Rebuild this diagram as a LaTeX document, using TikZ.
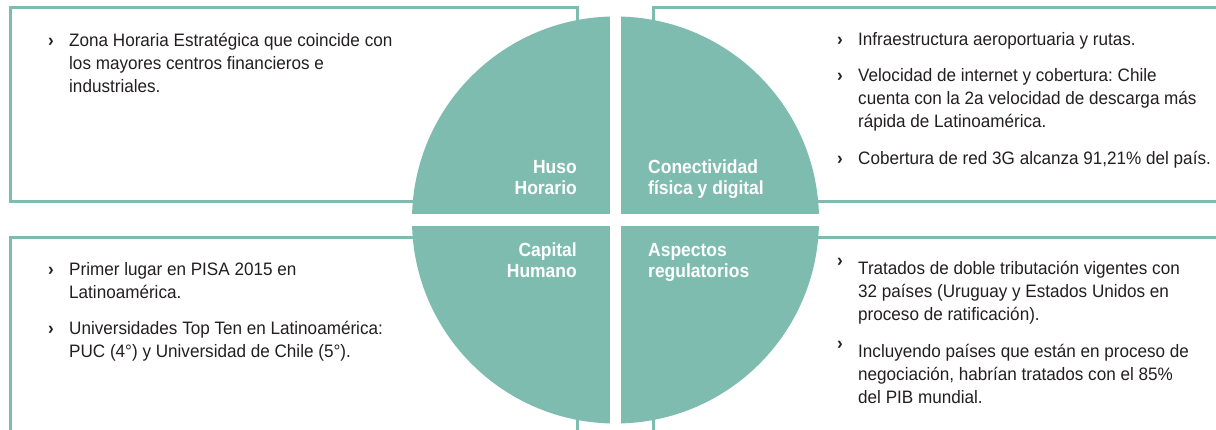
\documentclass[tikz,border=0pt]{standalone}
\usepackage{fontspec}
\setmainfont{Liberation Sans}
\newfontfamily\bodyfont{Liberation Sans}[FakeStretch=0.95]
\newfontfamily\lblfont{Liberation Sans}[FakeStretch=0.92]
\definecolor{teal1}{HTML}{7FBCB0}
\definecolor{ink}{HTML}{231F20}
\frenchspacing
\begin{document}
\begin{tikzpicture}[x=1pt,y=-1pt,
  boxline/.style={draw=teal1, line width=3pt},
  item/.style={anchor=base west, align=left, inner sep=0pt,
    font=\bodyfont\fontsize{18}{23}\selectfont, text=ink},
  bul/.style={anchor=base west, inner sep=0pt,
    font=\bodyfont\bfseries\fontsize{18}{23}\selectfont, text=ink},
  lbl/.style={inner sep=0pt,
    font=\lblfont\bfseries\fontsize{19}{20.5}\selectfont, text=white},
]
\clip (0,0) rectangle (1216,430);
\fill[white] (0,0) rectangle (1216,430);
% frames
\draw[boxline] (10,8) rectangle (577,202);
\draw[boxline] (653,8) rectangle (1240,202);
\draw[boxline] (10,238) rectangle (577,460);
\draw[boxline] (653,238) rectangle (1240,460);
% quadrant disc
\coordinate (c) at (615.5,220);
\begin{scope}
  \clip (c) circle[radius=203.5pt];
  \fill[teal1] (400,5) rectangle (610,214);
  \fill[teal1] (621,5) rectangle (830,214);
  \fill[teal1] (400,226) rectangle (610,435);
  \fill[teal1] (621,226) rectangle (830,435);
\end{scope}
% labels (anchored at the baseline of their last line)
\node[lbl, anchor=base east, align=right] (huso) at (577,194.5) {Huso\\Horario};
\node[lbl, anchor=base west, align=left] (conec) at (648,194.5) {Conectividad\\física y digital};
\node[lbl, anchor=base east, align=right] (capital) at (577,277.5) {Capital\\Humano};
\node[lbl, anchor=base west, align=left] (aspectos) at (648,277.5) {Aspectos\\regulatorios};
% top left
\node[bul] (tlb1) at (48,46.5) {›};
\node[item] (tl1) at (69,92.5) {Zona Horaria Estratégica que coincide con\\los mayores centros financieros e\\industriales.};
% top right
\node[bul] (trb1) at (837,46) {›};
\node[item] (tr1) at (858,46) {Infraestructura aeroportuaria y rutas.};
\node[bul] (trb2) at (837,82) {›};
\node[item] (tr2) at (858,128) {Velocidad de internet y cobertura: Chile\\cuenta con la 2a velocidad de descarga más\\rápida de Latinoamérica.};
\node[bul] (trb3) at (837,164.5) {›};
\node[item] (tr3) at (858,164.5) {Cobertura de red 3G alcanza 91,21\% del país.};
% bottom left
\node[bul] (blb1) at (48,276) {›};
\node[item] (bl1) at (69,299) {Primer lugar en PISA 2015 en\\Latinoamérica.};
\node[bul] (blb2) at (48,335) {›};
\node[item] (bl2) at (69,358) {Universidades Top Ten en Latinoamérica:\\PUC (4°) y Universidad de Chile (5°).};
% bottom right
\node[bul] (brb1) at (837,267) {›};
\node[item] (br1) at (858,321) {Tratados de doble tributación vigentes con\\32 países (Uruguay y Estados Unidos en\\proceso de ratificación).};
\node[bul] (brb2) at (837,349) {›};
\node[item] (br2) at (858,403) {Incluyendo países que están en proceso de\\negociación, habrían tratados con el 85\%\\del PIB mundial.};
\end{tikzpicture}
\end{document}
